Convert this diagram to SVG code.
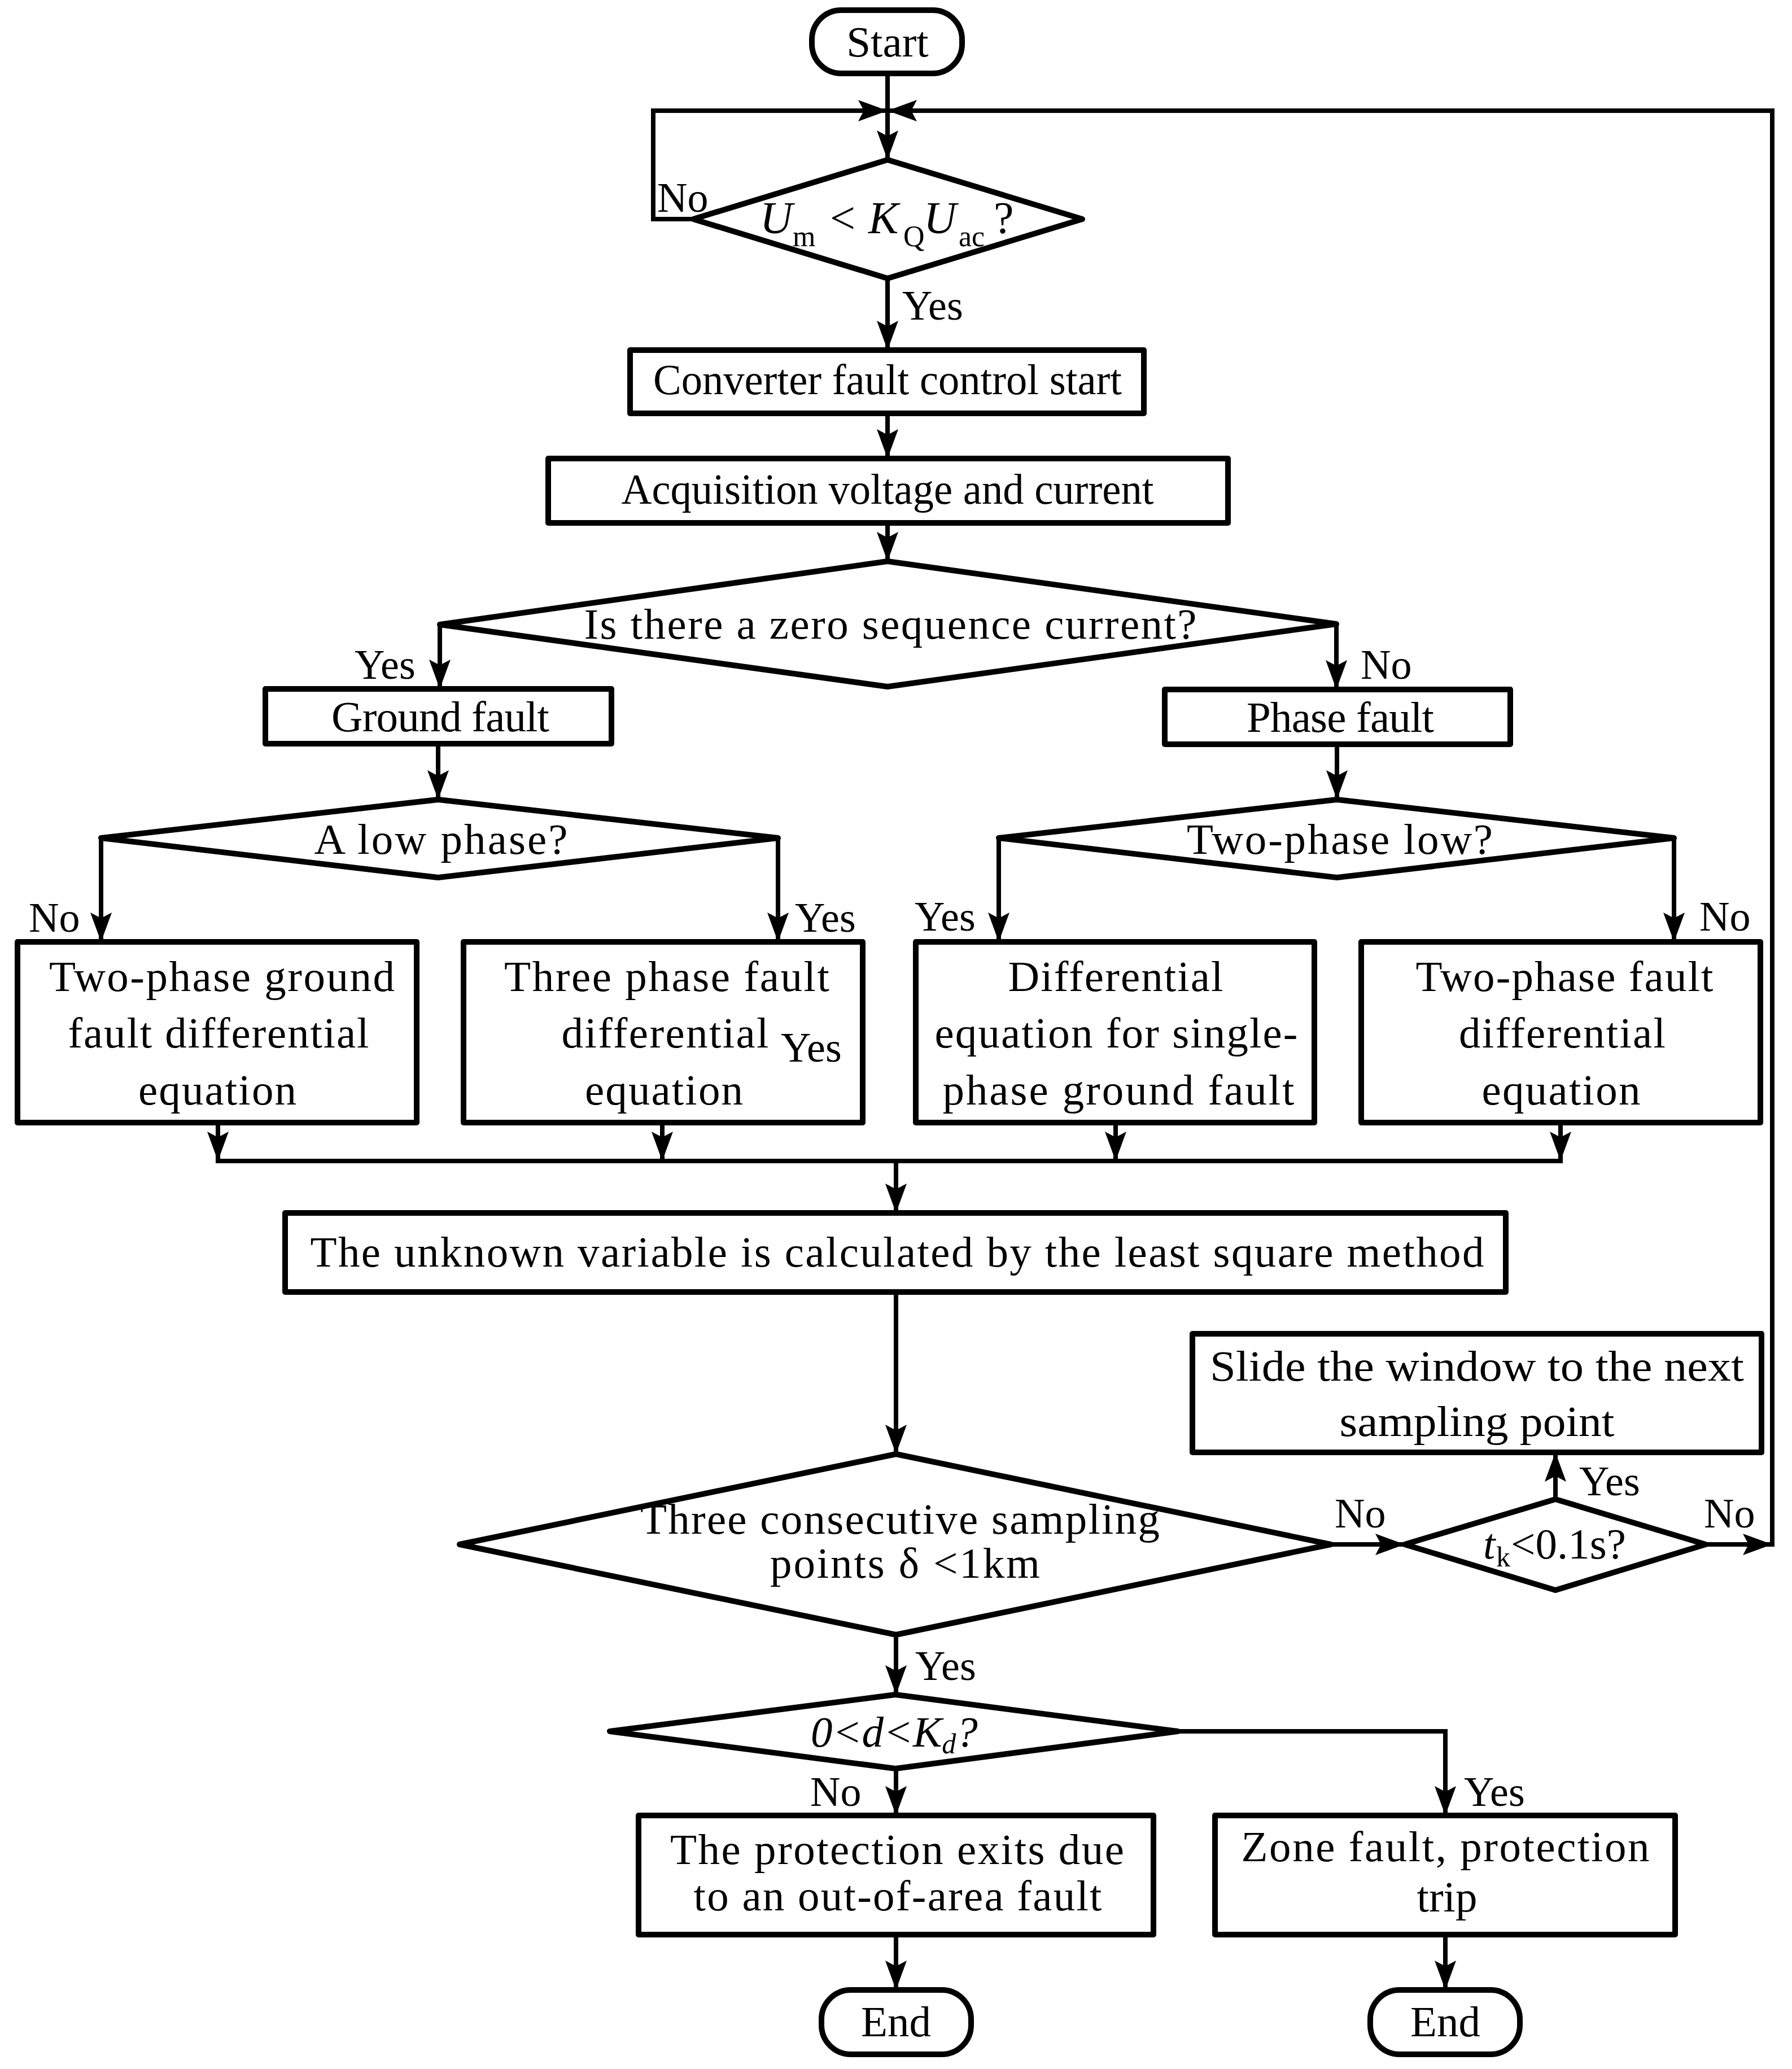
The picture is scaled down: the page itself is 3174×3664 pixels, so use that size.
<svg xmlns="http://www.w3.org/2000/svg" width="3174" height="3664" viewBox="0 0 3174 3664">
<style>
.s{fill:#fff;stroke:#000;stroke-width:10;stroke-linejoin:round}
.c{fill:none;stroke:#000;stroke-width:8}
.t{font-family:"Liberation Serif","Times New Roman",serif;font-size:77px;fill:#000;text-anchor:middle}
.l{font-family:"Liberation Serif","Times New Roman",serif;font-size:74px;fill:#000}
.i{font-style:italic}
</style>
<defs>
<marker id="a" markerUnits="userSpaceOnUse" markerWidth="54" markerHeight="40" viewBox="0 0 54 40" refX="52" refY="20" orient="auto"><path d="M0,1 L52,20 L0,39 L10,20 Z" fill="#000"/></marker>
</defs>
<rect width="3174" height="3664" fill="#fff"/>
<g id="connectors">
<path class="c" d="M1572,130 V283" marker-end="url(#a)"/>
<path class="c" d="M1228,388 H1157 V196 H1572" marker-end="url(#a)"/>
<path class="c" d="M3139,2739 V196 H1572" marker-end="url(#a)"/>
<path class="c" d="M1572,493 V620" marker-end="url(#a)"/>
<path class="c" d="M1572,732 V812" marker-end="url(#a)"/>
<path class="c" d="M1572,926 V994" marker-end="url(#a)"/>
<path class="c" d="M779,1106 V1220" marker-end="url(#a)"/>
<path class="c" d="M2367,1105 V1221" marker-end="url(#a)"/>
<path class="c" d="M776,1317 V1416" marker-end="url(#a)"/>
<path class="c" d="M2368,1318 V1416" marker-end="url(#a)"/>
<path class="c" d="M179,1484 V1668" marker-end="url(#a)"/>
<path class="c" d="M1378,1484 V1668" marker-end="url(#a)"/>
<path class="c" d="M1769,1484 V1668" marker-end="url(#a)"/>
<path class="c" d="M2965,1484 V1668" marker-end="url(#a)"/>
<path class="c" d="M386,1988 V2056" marker-end="url(#a)"/>
<path class="c" d="M1173,1988 V2056" marker-end="url(#a)"/>
<path class="c" d="M1976,1988 V2056" marker-end="url(#a)"/>
<path class="c" d="M2764,1988 V2056" marker-end="url(#a)"/>
<path class="c" d="M382,2056 H2768"/>
<path class="c" d="M1587,2056 V2148" marker-end="url(#a)"/>
<path class="c" d="M1587,2288 V2575" marker-end="url(#a)"/>
<path class="c" d="M2357,2735 H2488" marker-end="url(#a)"/>
<path class="c" d="M2755,2655 V2572" marker-end="url(#a)"/>
<path class="c" d="M3021,2735 H3139" marker-end="url(#a)"/>
<path class="c" d="M1587,2895 V3001" marker-end="url(#a)"/>
<path class="c" d="M2086,3066 H2560 V3215" marker-end="url(#a)"/>
<path class="c" d="M1587,3132 V3215" marker-end="url(#a)"/>
<path class="c" d="M1587,3426 V3524" marker-end="url(#a)"/>
<path class="c" d="M2560,3426 V3524" marker-end="url(#a)"/>
</g>
<g id="start">
<rect class="s" x="1438" y="18" width="266" height="112" rx="52"/>
<text class="t" x="1572" y="100">Start</text>
</g>
<g id="d1">
<polygon class="s" points="1572,283 1917,388 1572,493 1228,388"/>
<text class="l" style="font-size:80px" y="413"><tspan class="i" x="1346">U</tspan><tspan x="1404" y="436" style="font-size:52px">m</tspan><tspan x="1470" y="413">&lt;</tspan><tspan class="i" x="1538">K</tspan><tspan x="1600" y="436" style="font-size:52px">Q</tspan><tspan class="i" x="1636" y="413">U</tspan><tspan x="1698" y="436" style="font-size:52px">ac</tspan><tspan x="1760" y="413">?</tspan></text>
</g>
<g id="converter">
<rect class="s" x="1116" y="620" width="910" height="112"/>
<text class="t" x="1572" y="698" textLength="830" lengthAdjust="spacingAndGlyphs">Converter fault control start</text>
</g>
<g id="acquisition">
<rect class="s" x="971" y="812" width="1204" height="114"/>
<text class="t" x="1572" y="892" textLength="943" lengthAdjust="spacingAndGlyphs">Acquisition voltage and current</text>
</g>
<g id="d2">
<polygon class="s" points="1572,994 2367,1105 1572,1216 779,1106"/>
<text class="t" x="1577" y="1131" textLength="1085" lengthAdjust="spacing">Is there a zero sequence current?</text>
</g>
<g id="ground">
<rect class="s" x="470" y="1220" width="613" height="97"/>
<text class="t" x="780" y="1295" textLength="386" lengthAdjust="spacing">Ground fault</text>
</g>
<g id="phase">
<rect class="s" x="2063" y="1221" width="612" height="97"/>
<text class="t" x="2374" y="1296" textLength="332" lengthAdjust="spacing">Phase fault</text>
</g>
<g id="d3">
<polygon class="s" points="776,1416 1378,1484 776,1554 179,1484"/>
<text class="t" x="781" y="1512" textLength="449" lengthAdjust="spacing">A low phase?</text>
</g>
<g id="d4">
<polygon class="s" points="2368,1416 2965,1484 2368,1554 1769,1484"/>
<text class="t" x="2373" y="1512" textLength="542" lengthAdjust="spacing">Two-phase low?</text>
</g>
<g id="box1">
<rect class="s" x="31" y="1668" width="707" height="320"/>
<text class="t" x="393" y="1755" textLength="612" lengthAdjust="spacing">Two-phase ground</text>
<text class="t" x="387" y="1855" textLength="533" lengthAdjust="spacing">fault differential</text>
<text class="t" x="385" y="1956" textLength="280" lengthAdjust="spacing">equation</text>
</g>
<g id="box2">
<rect class="s" x="821" y="1668" width="707" height="320"/>
<text class="t" x="1181" y="1755" textLength="576" lengthAdjust="spacing">Three phase fault</text>
<text class="t" x="1178" y="1855" textLength="367" lengthAdjust="spacing">differential</text>
<text class="t" x="1176" y="1956" textLength="280" lengthAdjust="spacing">equation</text>
</g>
<g id="box3">
<rect class="s" x="1622" y="1668" width="706" height="320"/>
<text class="t" x="1976" y="1755" textLength="381" lengthAdjust="spacing">Differential</text>
<text class="t" x="1977" y="1855" textLength="643" lengthAdjust="spacing">equation for single-</text>
<text class="t" x="1981" y="1956" textLength="623" lengthAdjust="spacing">phase ground fault</text>
</g>
<g id="box4">
<rect class="s" x="2411" y="1668" width="707" height="320"/>
<text class="t" x="2771" y="1755" textLength="527" lengthAdjust="spacing">Two-phase fault</text>
<text class="t" x="2767" y="1855" textLength="366" lengthAdjust="spacing">differential</text>
<text class="t" x="2765" y="1956" textLength="281" lengthAdjust="spacing">equation</text>
</g>
<g id="lsq">
<rect class="s" x="505" y="2148" width="2162" height="140"/>
<text class="t" x="1589" y="2243" textLength="2079" lengthAdjust="spacing">The unknown variable is calculated by the least square method</text>
</g>
<g id="slide">
<rect class="s" x="2112" y="2362" width="1008" height="210"/>
<text class="t" x="2616" y="2445" textLength="946" lengthAdjust="spacingAndGlyphs">Slide the window to the next</text>
<text class="t" x="2616" y="2543" textLength="487" lengthAdjust="spacingAndGlyphs">sampling point</text>
</g>
<g id="d6">
<polygon class="s" points="1587,2575 2357,2735 1587,2895 814,2735"/>
<text class="t" x="1594" y="2716" textLength="920" lengthAdjust="spacing">Three consecutive sampling</text>
<text class="t" x="1603" y="2794" textLength="478" lengthAdjust="spacing">points δ &lt;1km</text>
</g>
<g id="dtk">
<polygon class="s" points="2755,2655 3021,2735 2755,2816 2488,2735"/>
<text class="l" style="font-size:77px" y="2760"><tspan class="i" x="2627">t</tspan><tspan x="2650" y="2774" style="font-size:50px">k</tspan><tspan x="2676" y="2760">&lt;0.1s?</tspan></text>
</g>
<g id="d7">
<polygon class="s" points="1586,3001 2086,3066 1586,3132 1080,3066"/>
<text class="l i" style="font-size:77px" x="1436" y="3093">0&lt;d&lt;K<tspan dy="12" style="font-size:50px">d</tspan><tspan dy="-12">?</tspan></text>
</g>
<g id="outarea">
<rect class="s" x="1131" y="3215" width="912" height="211"/>
<text class="t" x="1589" y="3301" textLength="804" lengthAdjust="spacing">The protection exits due</text>
<text class="t" x="1590" y="3383" textLength="723" lengthAdjust="spacing">to an out-of-area fault</text>
</g>
<g id="zone">
<rect class="s" x="2152" y="3215" width="815" height="211"/>
<text class="t" x="2560" y="3296" textLength="723" lengthAdjust="spacing">Zone fault, protection</text>
<text class="t" x="2563" y="3385">trip</text>
</g>
<g id="end1">
<rect class="s" x="1455" y="3524" width="265" height="114" rx="52"/>
<text class="t" x="1587" y="3606">End</text>
</g>
<g id="end2">
<rect class="s" x="2427" y="3524" width="265" height="114" rx="52"/>
<text class="t" x="2560" y="3606">End</text>
</g>
<g id="labels">
<text class="l" x="1164" y="375">No</text>
<text class="l" x="1598" y="566">Yes</text>
<text class="l" x="628" y="1202">Yes</text>
<text class="l" x="2410" y="1202">No</text>
<text class="l" x="51" y="1650">No</text>
<text class="l" x="1408" y="1650">Yes</text>
<text class="l" x="1383" y="1880">Yes</text>
<text class="l" x="1620" y="1648">Yes</text>
<text class="l" x="3010" y="1648">No</text>
<text class="l" x="2364" y="2705">No</text>
<text class="l" x="2797" y="2648">Yes</text>
<text class="l" x="3018" y="2705">No</text>
<text class="l" x="1621" y="2975">Yes</text>
<text class="l" x="1435" y="3198">No</text>
<text class="l" x="2593" y="3198">Yes</text>
</g>
</svg>
